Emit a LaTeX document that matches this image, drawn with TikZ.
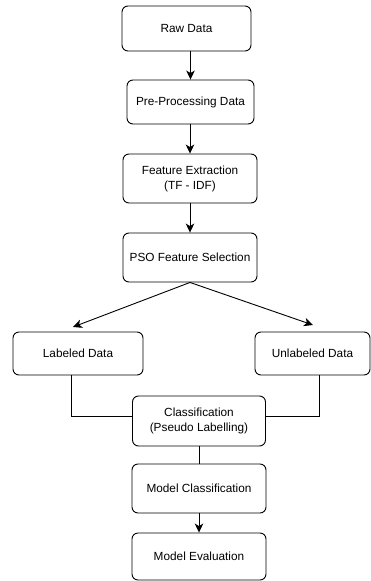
\documentclass[tikz,border=0pt]{standalone}
\usepackage{fontspec}
\setmainfont{Liberation Sans}
\usetikzlibrary{arrows.meta}

\begin{document}
\begin{tikzpicture}[x=1pt, y=-1pt, line width=0.9pt,
  box/.style={draw, rounded corners=6pt, align=center, inner sep=2pt,
    font=\fontsize{11.8}{15}\selectfont},
  >={Stealth[length=9pt, width=8.5pt, inset=2.5pt]}]
\useasboundingbox (0,0) rectangle (371,581);
\node[box, minimum width=129pt, minimum height=45pt] (raw) at (186.5,28.5) {Raw Data};
\node[box, minimum width=127pt, minimum height=44pt] (pre) at (190.5,102) {Pre-Processing Data};
\node[box, minimum width=134pt, minimum height=49pt] (fex) at (190,178.5) {Feature Extraction\\(TF - IDF)};
\node[box, minimum width=134pt, minimum height=49pt] (pso) at (190,257.5) {PSO Feature Selection};
\node[box, minimum width=130pt, minimum height=43pt] (lab) at (78,353.5) {Labeled Data};
\node[box, minimum width=115pt, minimum height=43pt] (unl) at (312.5,353.5) {Unlabeled Data};
\node[box, minimum width=133pt, minimum height=50pt] (cls) at (199,421) {Classification\\(Pseudo Labelling)};
\node[box, minimum width=134pt, minimum height=49pt] (mcl) at (199,488.5) {Model Classification};
\node[box, minimum width=134pt, minimum height=47pt] (evl) at (199,556.5) {Model Evaluation};
\coordinate (tipL) at (73,327);
\coordinate (tipR) at (313,325);
\coordinate (jL) at (71,416); % approx
\coordinate (jR) at (319,416);
\draw[->] (raw.south -| pre) -- (pre.north);
\draw[->] (pre.south -| fex) -- (fex.north);
\draw[->] (fex.south) -- (pso.north);
\draw[->] (pso.south) -- (tipL);
\draw[->] (pso.south) -- (tipR);
\draw (lab.south -| jL) -- (jL) -- (jL -| cls.west);
\draw (unl.south -| jR) -- (jR) -- (jR -| cls.east);
\draw (cls.south) -- (mcl.north);
\draw[->] (mcl.south) -- (evl.north);
\end{tikzpicture}
\end{document}
